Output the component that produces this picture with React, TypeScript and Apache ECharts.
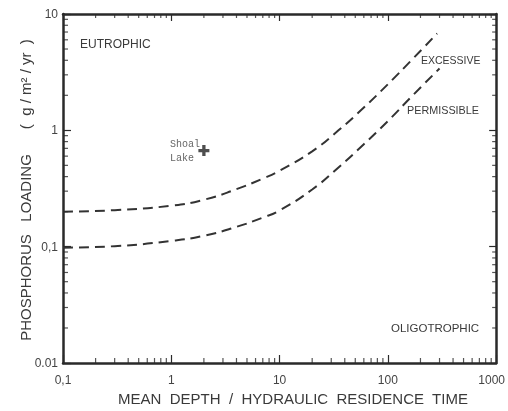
import React, { useEffect, useRef } from "react";
import * as echarts from "echarts";

// Excessive loading curve (upper dashed line)
const excessiveX = [0.1, 0.3, 1, 2, 4, 7, 10, 20, 35, 60, 100, 170, 285];
const excessiveY = [0.2, 0.206, 0.225, 0.253, 0.312, 0.385, 0.45, 0.66, 1.0, 1.57, 2.49, 4.12, 6.8];
// Permissible loading curve (lower dashed line)
const permissibleX = [0.1, 0.3, 1, 2, 4, 7, 10, 20, 35, 60, 100, 170, 300];
const permissibleY = [0.098, 0.101, 0.112, 0.124, 0.148, 0.178, 0.205, 0.31, 0.48, 0.76, 1.2, 2.0, 3.4];
// Shoal Lake point
const shoalLake = [2.0, 0.67];

// Tick labels
const xTickLabels: Record<string, string> = { "0.1": "0,1", "1": "1", "10": "10", "100": "100", "1000": "{max|1000}" };
const yTickLabels: Record<string, string> = { "0.01": "0.01", "0.1": "0,1", "1": "1", "10": "10" };
const xDecades = [0.1, 1, 10, 100];
const yDecades = [0.01, 0.1, 1];
const minorMults = [2, 3, 4, 5, 6, 7, 8, 9];

const X_MIN = 0.1, X_MAX = 1000, Y_MIN = 0.01, Y_MAX = 10;

export default function App() {
  const ref = useRef<HTMLDivElement>(null);
  useEffect(() => {
    const chart = echarts.init(ref.current!, null, { renderer: "svg" });
    const minorX: number[] = [];
    xDecades.forEach((d) => minorMults.forEach((m) => minorX.push(+(d * m).toPrecision(3))));
    const minorY: number[] = [];
    yDecades.forEach((d) => minorMults.forEach((m) => minorY.push(+(d * m).toPrecision(3))));

    const tickColor = "#2a2a2a";
    const tickSeries = (data: number[][], size: number[], offset: number[]) => ({
      type: "scatter",
      data,
      symbol: "rect",
      symbolSize: size,
      symbolOffset: offset,
      itemStyle: { color: tickColor },
      silent: true,
      clip: false,
      z: 5,
      xAxisIndex: 0,
      yAxisIndex: 0,
    });

    const labelFont = "Liberation Sans";
    const textColor = "#3a3a3a";

    chart.setOption({
      animation: false,
      grid: { left: 63, top: 14, right: 10, bottom: 48 },
      xAxis: [
        {
          type: "log",
          logBase: 10,
          min: X_MIN,
          max: X_MAX,
          axisLine: { show: true, lineStyle: { color: tickColor, width: 2.5 } },
          axisTick: { show: true, inside: true, length: 8, lineStyle: { color: tickColor, width: 1.2 } },
          splitLine: { show: false },
          axisLabel: {
            margin: 11,
            fontSize: 12,
            fontFamily: labelFont,
            color: "#444",
            formatter: (v: number) => xTickLabels[String(+v.toPrecision(3))] ?? "",
            rich: { max: { fontSize: 12, fontFamily: labelFont, color: "#444", padding: [0, 9, 0, 0] } },
          },
        },
        {
          type: "log",
          logBase: 10,
          min: X_MIN,
          max: X_MAX,
          position: "top",
          axisLine: { show: true, lineStyle: { color: tickColor, width: 2.5 } },
          axisTick: { show: true, inside: true, length: 7, lineStyle: { color: tickColor, width: 1.2 } },
          splitLine: { show: false },
          axisLabel: { show: false },
        },
      ],
      yAxis: [
        {
          type: "log",
          logBase: 10,
          min: Y_MIN,
          max: Y_MAX,
          axisLine: { show: true, lineStyle: { color: tickColor, width: 2.5 } },
          axisTick: { show: true, inside: true, length: 8, lineStyle: { color: tickColor, width: 1.2 } },
          splitLine: { show: false },
          axisLabel: {
            margin: 5,
            fontSize: 12,
            fontFamily: labelFont,
            color: "#444",
            formatter: (v: number) => yTickLabels[String(+v.toPrecision(3))] ?? "",
          },
        },
        {
          type: "log",
          logBase: 10,
          min: Y_MIN,
          max: Y_MAX,
          position: "right",
          axisLine: { show: true, lineStyle: { color: tickColor, width: 2.5 } },
          axisTick: { show: true, inside: true, length: 7, lineStyle: { color: tickColor, width: 1.2 } },
          splitLine: { show: false },
          axisLabel: { show: false },
        },
      ],
      series: [
        {
          type: "line",
          name: "Excessive",
          data: excessiveX.map((x, i) => [x, excessiveY[i]]),
          smooth: 0.5,
          showSymbol: false,
          lineStyle: { color: "#333", width: 2, type: [10, 6] },
          silent: true,
        },
        {
          type: "line",
          name: "Permissible",
          data: permissibleX.map((x, i) => [x, permissibleY[i]]),
          smooth: 0.5,
          showSymbol: false,
          lineStyle: { color: "#333", width: 2, type: [10, 6] },
          silent: true,
        },
        {
          type: "scatter",
          name: "Shoal Lake",
          data: [shoalLake],
          symbol: "path://M3.5,0H6.5V3.5H10V6.5H6.5V10H3.5V6.5H0V3.5H3.5Z",
          symbolSize: 11,
          itemStyle: { color: "#222" },
          silent: true,
          z: 6,
        },
        tickSeries(minorX.map((x) => [x, Y_MIN]), [1.2, 5], [0, -2.5]),
        tickSeries(minorX.map((x) => [x, Y_MAX]), [1.2, 4], [0, 2]),
        tickSeries(minorY.map((y) => [X_MIN, y]), [5, 1.2], [2.5, 0]),
        tickSeries(minorY.map((y) => [X_MAX, y]), [4, 1.2], [-2, 0]),
      ],
      graphic: [
        { type: "text", x: 80, y: 44, style: { text: "EUTROPHIC", fontSize: 12, fontFamily: labelFont, fill: textColor, verticalAlign: "middle" } },
        { type: "text", x: 421, y: 60, style: { text: "EXCESSIVE", fontSize: 10.5, fontFamily: labelFont, fill: textColor, verticalAlign: "middle" } },
        { type: "text", x: 407, y: 110, style: { text: "PERMISSIBLE", fontSize: 10.8, fontFamily: labelFont, fill: textColor, verticalAlign: "middle" } },
        { type: "text", x: 391, y: 328, style: { text: "OLIGOTROPHIC", fontSize: 11.5, fontFamily: labelFont, fill: textColor, verticalAlign: "middle" } },
        { type: "text", x: 170, y: 144, style: { text: "Shoal", fontSize: 10, fontFamily: "Liberation Mono", fill: "#666", verticalAlign: "middle" } },
        { type: "text", x: 170, y: 158, style: { text: "Lake", fontSize: 10, fontFamily: "Liberation Mono", fill: "#666", verticalAlign: "middle" } },
        {
          type: "text",
          x: 25,
          y: 190,
          rotation: Math.PI / 2,
          style: {
            text: "PHOSPHORUS   LOADING      (  g / m² / yr  )",
            fontSize: 15,
            fontFamily: labelFont,
            fill: textColor,
            align: "center",
            verticalAlign: "middle",
          },
        },
        {
          type: "text",
          x: 293,
          y: 398,
          style: {
            text: "MEAN  DEPTH  /  HYDRAULIC  RESIDENCE  TIME",
            fontSize: 15,
            fontFamily: labelFont,
            fill: textColor,
            align: "center",
            verticalAlign: "middle",
          },
        },
      ],
    });
    return () => chart.dispose();
  }, []);
  return <div ref={ref} style={{ position: "fixed", left: 0, top: 0, width: 508, height: 411 }} />;
}
